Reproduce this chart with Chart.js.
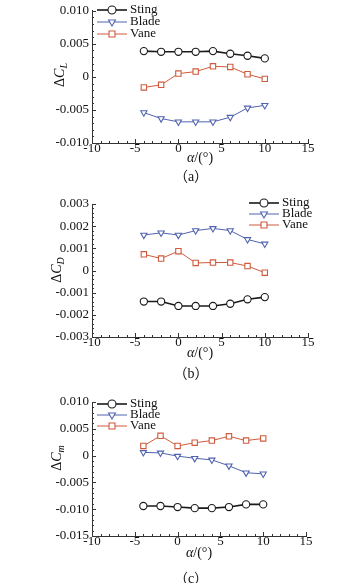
<!DOCTYPE html>
<html>
<head>
<meta charset="utf-8">
<script src="https://cdn.jsdelivr.net/npm/chart.js@4.4.1/dist/chart.umd.min.js"></script>
<style>
html, body { margin: 0; padding: 0; background: #fff; }
#wrap { position: relative; width: 359px; height: 583px; overflow: hidden; }
canvas { position: absolute; left: 0; }
.cap { position: absolute; font-family: "Liberation Serif", "Noto Sans CJK SC", serif; font-size: 14px; color: #111;
       transform: translate(-50%, -50%); white-space: nowrap; }
</style>
</head>
<body>
<div id="wrap">
  <canvas id="ca" width="359" height="190" style="top:0px"></canvas>
  <canvas id="cb" width="359" height="200" style="top:190px"></canvas>
  <canvas id="cc" width="359" height="193" style="top:390px"></canvas>
  <div class="cap" style="left:191px;top:175px">（a）</div>
  <div class="cap" style="left:191px;top:372px">（b）</div>
  <div class="cap" style="left:191px;top:577px">（c）</div>
</div>
<script>
// Angle of attack (deg)
const alpha = [-4, -2, 0, 2, 4, 6, 8, 10];
const seriesNames = ['Sting', 'Blade', 'Vane'];

// (a) lift increment
const stingCL = [0.0039, 0.0038, 0.0038, 0.0038, 0.0039, 0.0035, 0.0032, 0.0028];
const bladeCL = [-0.0054, -0.0063, -0.0068, -0.0068, -0.0068, -0.0061, -0.0047, -0.0043];
const vaneCL  = [-0.0016, -0.0012, 0.0005, 0.0008, 0.0016, 0.0015, 0.0004, -0.0003];

// (b) drag increment
const stingCD = [-0.0014, -0.0014, -0.0016, -0.0016, -0.0016, -0.0015, -0.0013, -0.0012];
const bladeCD = [0.0016, 0.0017, 0.0016, 0.0018, 0.0019, 0.0018, 0.0014, 0.0012];
const vaneCD  = [0.00073, 0.00054, 0.00087, 0.00034, 0.00036, 0.00036, 0.0002, -0.0001];

// (c) pitching moment increment
const stingCm = [-0.0094, -0.0094, -0.0096, -0.0098, -0.0098, -0.0096, -0.0091, -0.0091];
const bladeCm = [0.0006, 0.0005, -0.0001, -0.0005, -0.0008, -0.0019, -0.0032, -0.0034];
const vaneCm  = [0.0018, 0.0037, 0.0018, 0.0024, 0.0028, 0.0036, 0.0028, 0.0032];

// axis ranges
const xTicks = [-10, -5, 0, 5, 10, 15];
const yRangeA = [-0.010, 0.010, 0.005];
const yRangeB = [-0.003, 0.003, 0.001];
const yRangeC = [-0.015, 0.010, 0.005];

const serif = '"Liberation Serif", "Times New Roman", serif';
const styles = [
  { color: '#1a1a1a', pointStyle: 'circle',   rot: 0,   r: 3.6, lw: 1.6 },
  { color: '#5163b0', pointStyle: 'triangle', rot: 180, r: 3.6, lw: 1   },
  { color: '#cf5a3c', pointStyle: 'rect',     rot: 0,   r: 3.8, lw: 1   }
];

function drawParts(ctx, parts, x, y) {
  // parts: [text, italic, sub]
  let w = 0;
  const fonts = parts.map(p => (p[1] ? 'italic ' : '') + (p[2] ? '10px ' : '14px ') + serif);
  parts.forEach((p, i) => { ctx.font = fonts[i]; w += ctx.measureText(p[0]).width; });
  let cx = x - w / 2;
  parts.forEach((p, i) => {
    ctx.font = fonts[i];
    ctx.fillText(p[0], cx, y + (p[2] ? 4 : 0));
    cx += ctx.measureText(p[0]).width;
  });
}

const decor = {
  id: 'decor',
  afterDraw(chart, args, o) {
    const ctx = chart.ctx, xs = chart.scales.x, ys = chart.scales.y, a = chart.chartArea;
    ctx.save();
    ctx.strokeStyle = '#333';
    ctx.lineWidth = 1;
    // inward ticks, 4 minors between majors
    const xStep = xs.options.ticks.stepSize / 5;
    const nx = Math.round((xs.max - xs.min) / xStep);
    for (let i = 0; i <= nx; i++) {
      const px = Math.round(xs.getPixelForValue(xs.min + i * xStep)) + 0.5;
      const len = i % 5 === 0 ? 4 : 2;
      ctx.beginPath(); ctx.moveTo(px, a.bottom); ctx.lineTo(px, a.bottom - len); ctx.stroke();
    }
    const yStep = ys.options.ticks.stepSize / 5;
    const ny = Math.round((ys.max - ys.min) / yStep);
    for (let i = 0; i <= ny; i++) {
      const py = Math.round(ys.getPixelForValue(ys.min + i * yStep)) + 0.5;
      const len = i % 5 === 0 ? 4 : 2;
      ctx.beginPath(); ctx.moveTo(a.left, py); ctx.lineTo(a.left + len, py); ctx.stroke();
    }
    // legend inside plot
    chart.data.datasets.forEach((ds, i) => {
      const y = o.leg.y + i * o.leg.dy;
      ctx.strokeStyle = ds.borderColor;
      ctx.lineWidth = ds.borderWidth;
      ctx.beginPath(); ctx.moveTo(o.leg.x, y); ctx.lineTo(o.leg.x + 30, y); ctx.stroke();
      ctx.fillStyle = '#fff';
      ctx.lineWidth = ds.pointBorderWidth;
      Chart.helpers.drawPoint(ctx, { pointStyle: ds.pointStyle, rotation: ds.pointRotation, radius: ds.pointRadius + 0.4, borderWidth: ds.pointBorderWidth }, o.leg.x + 15, y);
      ctx.fillStyle = '#111';
      ctx.font = '13px ' + serif;
      ctx.textAlign = 'left';
      ctx.textBaseline = 'middle';
      ctx.fillText(ds.label, o.leg.x + 33, y);
    });
    // axis titles
    ctx.fillStyle = '#111';
    ctx.textAlign = 'left';
    ctx.textBaseline = 'middle';
    drawParts(ctx, [['α', true], ['/(°)', false]], (a.left + a.right) / 2, o.xTitleY);
    ctx.translate(o.yTitle.x, o.yTitle.y);
    ctx.rotate(-Math.PI / 2);
    drawParts(ctx, [['Δ', false], ['C', true], [o.yTitle.sub, true, true]], 0, 0);
    ctx.restore();
  }
};

function fmtY(v) {
  if (Math.abs(v) < 1e-9) return '0';
  return v.toFixed(3);
}

function make(id, series, yr, lay) {
  const datasets = series.map((vals, i) => ({
    label: seriesNames[i],
    data: vals.map((v, k) => ({ x: alpha[k], y: v })),
    borderColor: styles[i].color,
    backgroundColor: '#fff',
    borderWidth: styles[i].lw,
    pointStyle: styles[i].pointStyle,
    pointRotation: styles[i].rot,
    pointRadius: styles[i].r,
    pointBorderWidth: 1.1,
    pointBackgroundColor: '#fff',
    pointBorderColor: styles[i].color,
    tension: 0
  }));
  new Chart(document.getElementById(id), {
    type: 'line',
    data: { datasets },
    options: {
      responsive: false, animation: false, events: [],
      layout: { padding: { top: lay.top, right: lay.right, left: 0, bottom: 0 } },
      plugins: {
        legend: { display: false }, tooltip: { enabled: false },
        decor: lay.decor
      },
      scales: {
        x: {
          type: 'linear', min: xTicks[0], max: xTicks[xTicks.length - 1],
          grid: { display: false, drawTicks: false },
          border: { display: true, color: '#333', width: 1 },
          ticks: { stepSize: 5, padding: -2, color: '#111', font: { family: serif, size: 13 }, autoSkip: false, maxRotation: 0 },
          afterFit: s => { s.height = lay.xh; }
        },
        y: {
          min: yr[0], max: yr[1],
          grid: { display: false, drawTicks: false },
          border: { display: true, color: '#333', width: 1 },
          ticks: { stepSize: yr[2], padding: 3, color: '#111', font: { family: serif, size: 13 }, autoSkip: false, callback: fmtY },
          afterFit: s => { s.width = 92; }
        }
      }
    },
    plugins: [decor]
  });
}

make('ca', [stingCL, bladeCL, vaneCL], yRangeA, {
  top: 8, right: 51, xh: 47,
  decor: { leg: { x: 97, y: 10, dy: 12 }, xTitleY: 158, yTitle: { x: 60, y: 75, sub: 'L' } }
});
make('cb', [stingCD, bladeCD, vaneCD], yRangeB, {
  top: 14, right: 51, xh: 53,
  decor: { leg: { x: 249, y: 13, dy: 11 }, xTitleY: 163, yTitle: { x: 57, y: 80, sub: 'D' } }
});
make('cc', [stingCm, bladeCm, vaneCm], yRangeC, {
  top: 12, right: 53, xh: 47,
  decor: { leg: { x: 97, y: 14, dy: 11 }, xTitleY: 163, yTitle: { x: 57, y: 68, sub: 'm' } }
});
</script>
</body>
</html>
